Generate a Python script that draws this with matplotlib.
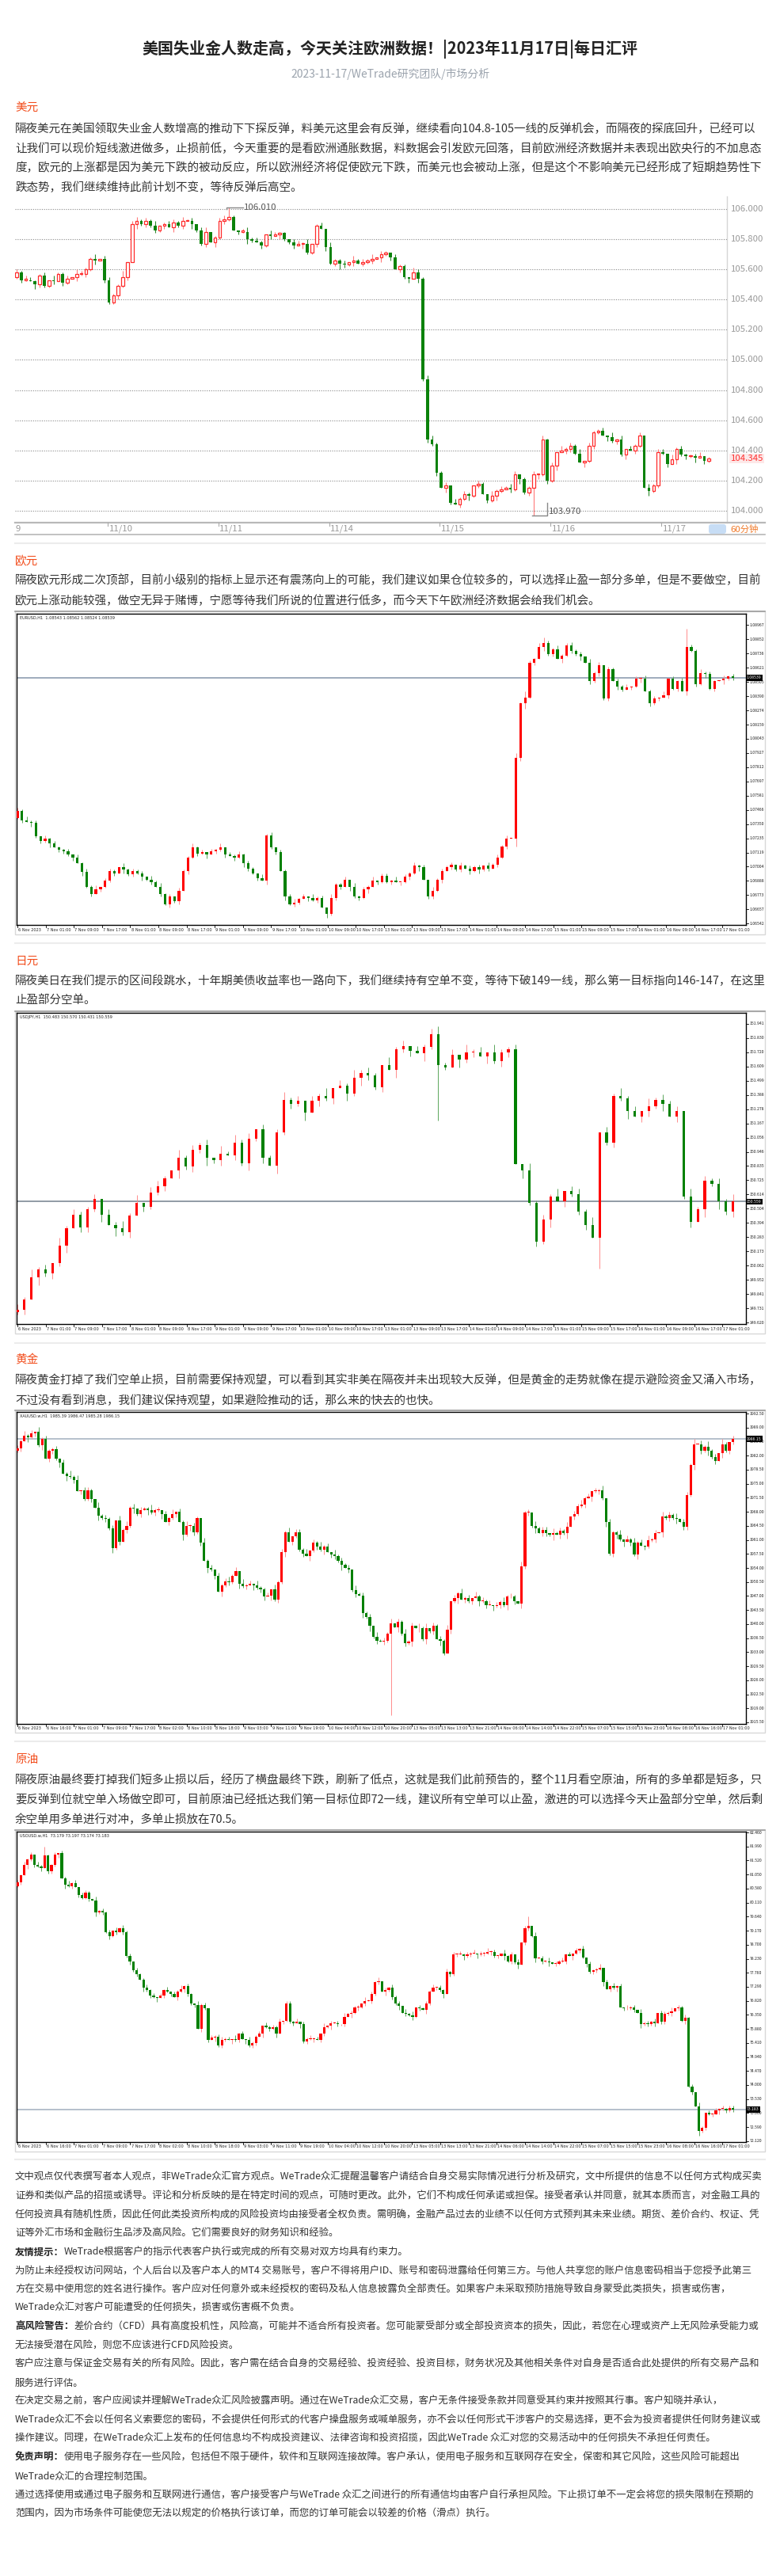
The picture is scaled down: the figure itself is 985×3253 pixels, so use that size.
import numpy as np
import matplotlib
matplotlib.use("Agg")
import matplotlib.pyplot as plt
from matplotlib.patches import Rectangle, FancyBboxPatch

# ============================ DATA ============================
title = "美国失业金人数走高，今天关注欧洲数据！|2023年11月17日|每日汇评"
subtitle = "2023-11-17/WeTrade研究团队/市场分析"

sec_usd = "美元"
para_usd = [
    "隔夜美元在美国领取失业金人数增高的推动下下探反弹，料美元这里会有反弹，继续看向104.8-105一线的反弹机会，而隔夜的探底回升，已经可以",
    "让我们可以现价短线激进做多，止损前低，今天重要的是看欧洲通胀数据，料数据会引发欧元回落，目前欧洲经济数据并未表现出欧央行的不加息态",
    "度，欧元的上涨都是因为美元下跌的被动反应，所以欧洲经济将促使欧元下跌，而美元也会被动上涨，但是这个不影响美元已经形成了短期趋势性下",
    "跌态势，我们继续维持此前计划不变，等待反弹后高空。",
]
sec_eur = "欧元"
para_eur = [
    "隔夜欧元形成二次顶部，目前小级别的指标上显示还有震荡向上的可能，我们建议如果仓位较多的，可以选择止盈一部分多单，但是不要做空，目前",
    "欧元上涨动能较强，做空无异于赌博，宁愿等待我们所说的位置进行低多，而今天下午欧洲经济数据会给我们机会。",
]
sec_jpy = "日元"
para_jpy = [
    "隔夜美日在我们提示的区间段跳水，十年期美债收益率也一路向下，我们继续持有空单不变，等待下破149一线，那么第一目标指向146-147，在这里",
    "止盈部分空单。",
]
sec_gold = "黄金"
para_gold = [
    "隔夜黄金打掉了我们空单止损，目前需要保持观望，可以看到其实非美在隔夜并未出现较大反弹，但是黄金的走势就像在提示避险资金又涌入市场，",
    "不过没有看到消息，我们建议保持观望，如果避险推动的话，那么来的快去的也快。",
]
sec_oil = "原油"
para_oil = [
    "隔夜原油最终要打掉我们短多止损以后，经历了横盘最终下跌，刷新了低点，这就是我们此前预告的，整个11月看空原油，所有的多单都是短多，只",
    "要反弹到位就空单入场做空即可，目前原油已经抵达我们第一目标位即72一线，建议所有空单可以止盈，激进的可以选择今天止盈部分空单，然后剩",
    "余空单用多单进行对冲，多单止损放在70.5。",
]
footer = [
    ("", "文中观点仅代表撰写者本人观点，非WeTrade众汇官方观点。WeTrade众汇提醒温馨客户请结合自身交易实际情况进行分析及研究，文中所提供的信息不以任何方式构成买卖"),
    ("", "证券和类似产品的招揽或诱导。评论和分析反映的是在特定时间的观点，可随时更改。此外，它们不构成任何承诺或担保。接受者承认并同意，就其本质而言，对金融工具的"),
    ("", "任何投资具有随机性质，因此任何此类投资所构成的风险投资均由接受者全权负责。需明确，金融产品过去的业绩不以任何方式预判其未来业绩。期货、差价合约、权证、凭"),
    ("", "证等外汇市场和金融衍生品涉及高风险。它们需要良好的财务知识和经验。"),
    ("友情提示：", "WeTrade根据客户的指示代表客户执行或完成的所有交易对双方均具有约束力。"),
    ("", "为防止未经授权访问网站，个人后台以及客户本人的MT4 交易账号，客户不得将用户ID、账号和密码泄露给任何第三方。与他人共享您的账户信息密码相当于您授予此第三"),
    ("", "方在交易中使用您的姓名进行操作。客户应对任何意外或未经授权的密码及私人信息披露负全部责任。如果客户未采取预防措施导致自身蒙受此类损失，损害或伤害，"),
    ("", "WeTrade众汇对客户可能遭受的任何损失，损害或伤害概不负责。"),
    ("高风险警告：", "差价合约（CFD）具有高度投机性，风险高，可能并不适合所有投资者。您可能蒙受部分或全部投资资本的损失，因此，若您在心理或资产上无风险承受能力或"),
    ("", "无法接受潜在风险，则您不应该进行CFD风险投资。"),
    ("", "客户应注意与保证金交易有关的所有风险。因此，客户需在结合自身的交易经验、投资经验、投资目标，财务状况及其他相关条件对自身是否适合此处提供的所有交易产品和"),
    ("", "服务进行评估。"),
    ("", "在决定交易之前，客户应阅读并理解WeTrade众汇风险披露声明。通过在WeTrade众汇交易，客户无条件接受条款并同意受其约束并按照其行事。客户知晓并承认，"),
    ("", "WeTrade众汇不会以任何名义索要您的密码，不会提供任何形式的代客户操盘服务或喊单服务，亦不会以任何形式干涉客户的交易选择，更不会为投资者提供任何财务建议或"),
    ("", "操作建议。同理，在WeTrade众汇上发布的任何信息均不构成投资建议、法律咨询和投资招揽，因此WeTrade 众汇对您的交易活动中的任何损失不承担任何责任。"),
    ("免责声明：", "使用电子服务存在一些风险，包括但不限于硬件，软件和互联网连接故障。客户承认，使用电子服务和互联网存在安全，保密和其它风险，这些风险可能超出"),
    ("", "WeTrade众汇的合理控制范围。"),
    ("", "通过选择使用或通过电子服务和互联网进行通信，客户接受客户与WeTrade 众汇之间进行的所有通信均由客户自行承担风险。下止损订单不一定会将您的损失限制在预期的"),
    ("", "范围内，因为市场条件可能使您无法以规定的价格执行该订单，而您的订单可能会以较差的价格（滑点）执行。"),
]

# ---- USD index, hourly candles (web chart) ----
usd_open0 = 105.55
usd_close = [
    105.58, 105.53, 105.53, 105.52, 105.50, 105.56, 105.49, 105.53, 105.52, 105.57,
    105.51, 105.54, 105.55, 105.57, 105.57, 105.60, 105.67, 105.66, 105.67, 105.53,
    105.38, 105.43, 105.49, 105.55, 105.65, 105.90, 105.92, 105.90, 105.92, 105.89,
    105.86, 105.89, 105.90, 105.88, 105.91, 105.89, 105.92, 105.92, 105.90, 105.86,
    105.77, 105.85, 105.78, 105.81, 105.92, 105.93, 105.95, 105.86, 105.85, 105.85,
    105.80, 105.79, 105.78, 105.76, 105.83, 105.82, 105.83, 105.84, 105.80, 105.78,
    105.76, 105.77, 105.77, 105.71, 105.77, 105.89, 105.87, 105.75, 105.64, 105.66,
    105.64, 105.63, 105.65, 105.66, 105.64, 105.65, 105.66, 105.67, 105.68, 105.70,
    105.71, 105.68, 105.60, 105.62, 105.55, 105.54, 105.58, 105.54, 104.87, 104.47,
    104.44, 104.25, 104.15, 104.17, 104.05, 104.04, 104.08, 104.11, 104.10, 104.17,
    104.18, 104.11, 104.07, 104.10, 104.13, 104.14, 104.15, 104.14, 104.24, 104.21,
    104.12, 104.15, 104.24, 104.24, 104.47, 104.20, 104.30, 104.39, 104.40, 104.41,
    104.43, 104.38, 104.32, 104.33, 104.43, 104.52, 104.53, 104.50, 104.49, 104.46,
    104.47, 104.37, 104.41, 104.40, 104.43, 104.50, 104.15, 104.13, 104.17, 104.39,
    104.38, 104.31, 104.34, 104.41, 104.37, 104.36, 104.36, 104.35, 104.36, 104.33,
    104.345,
]
usd_up_wick = ("2132112031 1203211302 2114023121 3012213120 2301231102 3121032110 2213012031 "
               "1203121302 1021103213 3112031210 2103121320 1120312031 2130211203 1302120312 2031211230 1")
usd_dn_wick = ("1210321120 2103121302 1131203121 2120312031 1203121021 3102120311 2031120312 "
               "4213021203 1202130312 1203102131 2021310213 1203121302 2103121031 2130210312 1203121302 1")
usd_wick_unit = 0.01
usd_high_marks = {46: 106.010}
usd_low_marks = {112: 103.970}
usd_day_labels = ["11/10", "11/11", "11/14", "11/15", "11/16", "11/17"]
usd_first_day_index = 19.7
usd_grid = [104.0, 104.2, 104.4, 104.6, 104.8, 105.0, 105.2, 105.4, 105.6, 105.8, 106.0]

# ---- EURUSD H1 (pips above 1.0600) ----
eur_open0 = 140
eur_close_pips = [
    146, 138, 137, 136, 125, 121, 123, 119, 116, 114,
    113, 110, 108, 103, 96, 84, 78, 82, 84, 89,
    97, 95, 100, 98, 94, 97, 95, 92, 90, 88,
    84, 78, 70, 76, 72, 81, 97, 108, 116, 111,
    112, 110, 113, 114, 116, 110, 109, 108, 110, 103,
    99, 95, 91, 89, 126, 116, 112, 97, 76, 70,
    71, 74, 76, 75, 73, 75, 67, 62, 75, 86,
    84, 90, 84, 76, 75, 82, 84, 89, 88, 93,
    88, 89, 88, 88, 92, 95, 101, 100, 90, 76,
    81, 90, 97, 100, 102, 98, 101, 99, 97, 100,
    98, 101, 99, 102, 108, 117, 123, 123, 189, 233,
    238, 266, 269, 279, 282, 273, 277, 269, 272, 280,
    276, 273, 271, 266, 251, 258, 264, 237, 261, 251,
    247, 244, 246, 247, 253, 253, 243, 233, 237, 238,
    240, 253, 245, 251, 243, 279, 276, 249, 258, 257,
    245, 251, 252, 253, 255, 253.9,
]
eur_up_wick = ("2131203121 1202131302 2103121203 1312021131 2021302131 2103120212 3120312031 1203121302 "
               "2130213120 3121203121 2031213041 5213021312 3120313021 2130213120 3121302131 2103120")
eur_dn_wick = ("1203121302 2130312021 1203121312 0213120312 1302120313 2120312031 2103120312 2031213021 "
               "1203121302 2130212031 3120212063 4120312031 2130213120 3102130212 0312031213 1203121")
eur_high_pips = {145: 294, 114: 287}

# ---- USDJPY H1 ----
jpy_open0 = 149.70
jpy_close = [
    149.72, 149.80, 149.97, 150.03, 150.00, 150.08, 150.22, 150.35, 150.46, 150.36,
    150.50, 150.58, 150.46, 150.38, 150.35, 150.32, 150.45, 150.55, 150.52, 150.63,
    150.68, 150.74, 150.80, 150.90, 150.83, 150.96, 151.00, 150.90, 150.88, 150.93,
    150.92, 151.02, 150.86, 151.05, 151.12, 150.90, 150.84, 151.10, 151.35, 151.32,
    151.34, 151.25, 151.34, 151.38, 151.36, 151.44, 151.46, 151.40, 151.52, 151.56,
    151.54, 151.45, 151.62, 151.58, 151.74, 151.77, 151.73, 151.71, 151.76, 151.86,
    151.62, 151.60, 151.70, 151.66, 151.72, 151.72, 151.69, 151.72, 151.65, 151.72,
    151.74, 150.85, 150.80, 150.55, 150.25, 150.42, 150.60, 150.56, 150.64, 150.62,
    150.48, 150.38, 150.28, 151.10, 151.02, 151.38, 151.36, 151.26, 151.22, 151.26,
    151.30, 151.35, 151.32, 151.22, 151.26, 150.60, 150.40, 150.50, 150.72, 150.70,
    150.56, 150.48, 150.559,
]
jpy_up_wick = ("2131203121 1202131302 2103121203 1312021131 2021302131 2103120212 3120312031 "
               "1203121302 2130213120 3121203121 213")
jpy_dn_wick = ("1203121302 2130312021 1203121312 0213120312 1302120313 2120312031 2103120312 "
               "2031213021 1203121302 2130212031 312")
jpy_low_marks = {60: 151.19, 83: 150.04}

# ---- XAUUSD H1 ----
gold_open0 = 1983.2
gold_close = [
    1983.9, 1985.6, 1986.9, 1986.5, 1987.6, 1987.9, 1984.6, 1986.2, 1981.3, 1983.3,
    1983.6, 1981.3, 1980.3, 1977.4, 1977.0, 1976.7, 1976.0, 1973.1, 1973.4, 1971.1,
    1973.4, 1971.1, 1969.1, 1967.0, 1966.5, 1966.2, 1963.9, 1958.9, 1965.8, 1960.6,
    1963.5, 1964.5, 1969.1, 1968.8, 1967.5, 1968.5, 1968.8, 1968.5, 1967.8, 1968.5,
    1968.5, 1967.5, 1965.5, 1966.5, 1967.5, 1968.1, 1965.5, 1962.2, 1964.5, 1964.5,
    1962.9, 1966.5, 1960.3, 1955.7, 1954.0, 1953.7, 1952.0, 1948.1, 1949.7, 1950.7,
    1950.4, 1952.0, 1953.3, 1950.0, 1949.4, 1949.7, 1950.0, 1949.7, 1949.1, 1948.7,
    1946.8, 1947.1, 1948.7, 1946.1, 1950.4, 1958.0, 1962.9, 1960.6, 1961.9, 1962.9,
    1958.6, 1957.6, 1957.0, 1958.3, 1960.3, 1959.3, 1958.6, 1959.3, 1958.0, 1957.3,
    1957.0, 1955.7, 1954.7, 1954.0, 1953.7, 1948.4, 1947.4, 1947.1, 1942.8, 1941.8,
    1939.5, 1936.9, 1935.9, 1935.6, 1935.9, 1937.6, 1940.2, 1939.2, 1940.5, 1937.6,
    1935.3, 1935.6, 1939.5, 1938.9, 1938.9, 1936.2, 1938.9, 1938.2, 1939.5, 1936.2,
    1935.9, 1932.6, 1938.5, 1945.8, 1946.4, 1947.7, 1946.1, 1946.4, 1945.8, 1946.4,
    1946.8, 1945.8, 1945.8, 1944.8, 1944.8, 1944.5, 1944.8, 1945.5, 1944.8, 1946.8,
    1946.8, 1945.8, 1945.1, 1954.3, 1967.8, 1967.8, 1964.5, 1963.9, 1962.6, 1963.5,
    1962.6, 1962.2, 1962.6, 1962.2, 1963.2, 1962.6, 1964.2, 1966.8, 1967.5, 1969.5,
    1969.8, 1971.4, 1971.8, 1973.1, 1973.1, 1973.4, 1971.4, 1965.5, 1957.6, 1962.9,
    1962.2, 1961.2, 1960.6, 1961.2, 1960.3, 1957.3, 1960.3, 1959.6, 1959.3, 1960.9,
    1961.2, 1962.6, 1962.9, 1966.8, 1966.5, 1967.2, 1966.5, 1966.2, 1965.5, 1964.2,
    1972.1, 1979.7, 1984.9, 1984.9, 1983.3, 1984.3, 1983.3, 1981.6, 1980.7, 1982.6,
    1984.9, 1983.3, 1985.3, 1986.15,
]
gold_up_wick = ("2131203121 1202131302 2103121203 1312021131 2021302131 2103120212 3120312031 "
                "1203121302 2130213120 3121203121 2031213021 3120313021 2130213120 3121302131 "
                "2103120312 2031213021 3120213021 1302131203 1203121302 2130213120 3102")
gold_dn_wick = ("1203121302 2130312021 1203121312 0213120312 1302120313 2120312031 2103120312 "
                "2031213021 1203121302 2130212031 3120212031 2130213120 3102130212 0312031213 "
                "1203121302 2130213021 1203121312 2130213021 1203121302 2130213120 3121")
gold_low_marks = {106: 1917.2}

# ---- USOUSD H1 ----
oil_open0 = 80.67
oil_close = [
    80.80, 81.02, 81.37, 81.55, 81.73, 81.37, 81.33, 81.28, 81.68, 81.15,
    81.37, 81.73, 81.77, 80.93, 80.71, 80.67, 80.75, 80.62, 80.36, 80.27,
    80.45, 80.22, 80.18, 79.78, 79.83, 79.78, 79.12, 78.99, 79.16, 79.12,
    79.25, 79.12, 78.32, 78.15, 77.84, 77.71, 77.53, 77.26, 77.18, 77.00,
    76.95, 76.91, 77.00, 77.17, 77.13, 77.04, 76.95, 77.13, 77.22, 77.31,
    77.04, 76.73, 76.69, 75.89, 76.69, 76.56, 75.50, 75.59, 75.63, 75.32,
    75.50, 75.54, 75.50, 75.54, 75.50, 75.72, 75.54, 75.50, 75.32, 75.41,
    75.63, 75.72, 75.98, 75.94, 75.89, 75.94, 75.72, 76.12, 76.16, 76.73,
    76.12, 76.07, 76.12, 76.03, 75.45, 75.54, 75.54, 75.54, 75.50, 75.72,
    75.94, 75.98, 76.07, 76.07, 76.03, 76.03, 76.29, 76.38, 76.42, 76.60,
    76.60, 76.73, 76.82, 76.82, 77.04, 77.44, 77.48, 77.13, 77.18, 77.26,
    76.95, 76.73, 76.65, 76.42, 76.38, 76.34, 76.29, 76.60, 76.56, 76.51,
    76.73, 77.13, 77.26, 77.26, 77.18, 77.04, 77.79, 77.71, 78.37, 78.37,
    78.37, 78.32, 78.37, 78.41, 78.41, 78.37, 78.41, 78.41, 78.46, 78.46,
    78.32, 78.32, 78.41, 78.32, 78.15, 78.37, 78.10, 78.02, 78.77, 79.25,
    79.34, 78.99, 78.24, 78.24, 78.15, 78.15, 78.10, 78.06, 78.06, 78.15,
    78.15, 78.37, 78.32, 78.41, 78.50, 78.55, 78.28, 78.06, 77.79, 77.84,
    77.88, 77.93, 77.44, 77.22, 77.31, 77.26, 77.31, 76.60, 76.56, 76.56,
    76.60, 76.51, 76.42, 76.03, 76.07, 76.03, 76.12, 76.07, 76.42, 76.12,
    76.38, 76.42, 76.47, 76.56, 76.60, 76.16, 76.25, 73.95, 73.77, 73.29,
    72.45, 72.58, 73.07, 73.02, 73.02, 73.15, 73.20, 73.20, 73.15, 73.24,
    73.183,
]
oil_up_wick = ("2131203121 1202131302 2103121203 1312021131 2021302131 2103120212 3120312031 "
               "1203121302 2130213120 3121203121 2031213021 3120313021 2130213120 3121302131 "
               "2103120312 6031213021 3120213021 1302131203 1203121302 2130213120 3102120312 2")
oil_dn_wick = ("1203121302 2130312021 1203121312 0213120312 1302120313 2120312031 2103120312 "
               "2031213021 1203121302 2130212031 3120212031 2130213120 3102130212 0312031213 "
               "1203121302 2130213021 1203121312 2130213021 1203121302 2130213120 3121203121 2")
oil_high_marks = {8: 81.99, 150: 79.65}
oil_low_marks = {200: 72.31}

mt4_labels_a = ["6 Nov 2023", "7 Nov 01:00", "7 Nov 09:00", "7 Nov 17:00", "8 Nov 01:00", "8 Nov 09:00",
                "8 Nov 17:00", "9 Nov 01:00", "9 Nov 09:00", "9 Nov 17:00", "10 Nov 01:00", "10 Nov 09:00",
                "10 Nov 17:00", "13 Nov 01:00", "13 Nov 09:00", "13 Nov 17:00", "14 Nov 01:00", "14 Nov 09:00",
                "14 Nov 17:00", "15 Nov 01:00", "15 Nov 09:00", "15 Nov 17:00", "16 Nov 01:00", "16 Nov 09:00",
                "16 Nov 17:00", "17 Nov 01:00"]
mt4_labels_b = ["6 Nov 2023", "6 Nov 16:00", "7 Nov 01:00", "7 Nov 09:00", "7 Nov 17:00", "8 Nov 02:00",
                "8 Nov 10:00", "8 Nov 18:00", "9 Nov 03:00", "9 Nov 11:00", "9 Nov 19:00", "10 Nov 04:00",
                "10 Nov 12:00", "10 Nov 20:00", "13 Nov 05:00", "13 Nov 13:00", "13 Nov 21:00", "14 Nov 06:00",
                "14 Nov 14:00", "14 Nov 22:00", "15 Nov 07:00", "15 Nov 15:00", "15 Nov 23:00", "16 Nov 08:00",
                "16 Nov 16:00", "17 Nov 01:00"]

# ============================ LAYOUT ============================
W, H, DPI = 985, 3253, 100
plt.rcParams['font.family'] = ['Noto Sans CJK SC', 'DejaVu Sans']
fig = plt.figure(figsize=(W / DPI, H / DPI), dpi=DPI)
fig.patch.set_facecolor('white')
bg = fig.add_axes([0, 0, 1, 1])
bg.set_xlim(0, W)
bg.set_ylim(H, 0)
bg.axis('off')
renderer = fig.canvas.get_renderer()

TXT = '#333333'
SEC = '#f24c1b'
L, R = 19, 966


def fit_size(s, target_px, base=10.0, weight='normal'):
    t = bg.text(0, 0, s, fontsize=base, fontweight=weight)
    w = t.get_window_extent(renderer=renderer).width
    t.remove()
    return base * target_px / w


PARA_FS = fit_size(para_usd[0], 938)
FOOT_FS = fit_size(footer[0][1], 942)


def px_axes(x0, y0, x1, y1):
    return fig.add_axes([x0 / W, 1 - y1 / H, (x1 - x0) / W, (y1 - y0) / H])


def sep(y):
    bg.plot([L, R], [y, y], color='#ececec', lw=1.5)


def para(lines, ys):
    for s, y in zip(lines, ys):
        bg.text(L, y, s, fontsize=PARA_FS, color=TXT, va='center', ha='left')


def wicks_from(s, n):
    v = [int(ch) for ch in s.replace(' ', '')]
    return np.array([v[i] if i < len(v) else 1 for i in range(n)], dtype=float)


def ohlc(open0, closes, upw, dnw, unit, hi_marks=None, lo_marks=None):
    c = np.asarray(closes, dtype=float)
    o = np.concatenate([[open0], c[:-1]])
    n = len(c)
    h = np.maximum(o, c) + wicks_from(upw, n) * unit
    lo = np.minimum(o, c) - wicks_from(dnw, n) * unit
    for k, v in (hi_marks or {}).items():
        h[k] = v
    for k, v in (lo_marks or {}).items():
        lo[k] = v
    return o, c, h, lo


def draw_candles(ax, xs, o, c, h, lo, width, ucol, dcol, uw, dw, min_h, hollow_up=False, wlw=0.8):
    up = c >= o
    for sel, col, wc, is_up in ((up, ucol, uw, True), (~up, dcol, dw, False)):
        ax.vlines(xs[sel], lo[sel], h[sel], color=wc, lw=wlw, zorder=2)
        bottoms = np.minimum(o, c)[sel]
        heights = np.maximum(np.abs(c - o)[sel], min_h)
        if hollow_up and is_up:
            ax.bar(xs[sel], heights, width, bottoms, facecolor='white', edgecolor=col, lw=0.9, zorder=3)
        else:
            ax.bar(xs[sel], heights, width, bottoms, color=col, lw=0, zorder=3)


# ---------------- header ----------------
bg.text(W / 2, 62, title, fontsize=14.4, fontweight='bold', color='#222222', ha='center', va='center')
bg.text(W / 2, 93, subtitle, fontsize=10.0, color='#9ba3ad', ha='center', va='center')

# ---------------- USD section ----------------
bg.text(L, 136, sec_usd, fontsize=10.5, color=SEC, va='center')
para(para_usd, [163, 188, 212, 237])

ax = px_axes(19, 248, 918, 660)
n = len(usd_close)
xs = np.arange(n, dtype=float)
o, c, h, lo = ohlc(usd_open0, usd_close, usd_up_wick, usd_dn_wick, usd_wick_unit, usd_high_marks, usd_low_marks)
ax.set_xlim(-0.34, 153.9)
ax.set_ylim(103.921, 106.084)
ax.axis('off')
for g in usd_grid:
    ax.axhline(g, color='#8a8a8a', lw=0.8, ls=(0, (1, 1.5)), zorder=1)
    ax.text(1.005, g, f"{g:.3f}", transform=ax.get_yaxis_transform(), fontsize=8.2,
            color='#9a9a9a', va='center', ha='left')
draw_candles(ax, xs, o, c, h, lo, 0.62, '#ff2a2a', '#0b820b', '#ff7a7a', '#2e8b2e',
             min_h=0.006, hollow_up=True, wlw=0.8)
hi_i = list(usd_high_marks)[0]
hv = usd_high_marks[hi_i]
ax.plot([hi_i - 0.5, hi_i - 0.5, hi_i + 3.0], [hv - 0.012, hv, hv], color='#888888', lw=1.0)
ax.text(hi_i + 3.2, hv, f"{hv:.3f}", fontsize=8.2, color='#555555', va='center', ha='left')
lo_i = list(usd_low_marks)[0]
lv = usd_low_marks[lo_i]
ax.plot([lo_i - 0.3, lo_i + 3.0, lo_i + 3.0], [lv, lv, lv + 0.08], color='#888888', lw=1.0)
ax.text(lo_i + 3.3, lv + 0.025, f"{lv:.3f}", fontsize=8.2, color='#555555', va='center', ha='left')
cur = usd_close[-1]
ax.text(1.005, cur, f"{cur:.3f}", transform=ax.get_yaxis_transform(), fontsize=8.2, color='#ff3030',
        va='center', ha='left', bbox=dict(boxstyle='square,pad=0.1', fc='#fde8e8', ec='none'))
tr = ax.get_xaxis_transform()
for k, lab in enumerate(usd_day_labels):
    xi = usd_first_day_index + 24 * k
    ax.plot([xi, xi], [0, -4 / 412], transform=tr, color='#aaaaaa', lw=0.8, clip_on=False)
    ax.text(xi + 0.3, -8 / 412, lab, transform=tr, fontsize=8.2, color='#9a9a9a', va='center', ha='left')
bg.text(19, 668, "9", fontsize=8.2, color='#9a9a9a', va='center', ha='left')
bg.plot([918, 918], [248, 660], color='#d5d5d5', lw=1)
bg.plot([L, R], [660, 660], color='#b8b8b8', lw=1.6)
bg.plot([L, R], [675, 675], color='#b8b8b8', lw=1.2)
bg.add_patch(FancyBboxPatch((895, 662), 22, 12, boxstyle='round,pad=0,rounding_size=3',
                            fc='#c7ddf5', ec='none'))
bg.text(922, 668, "60分钟", fontsize=8.2, color='#f07a2a', va='center', ha='left')

sep(686)


# ---------------- MT4 charts ----------------
def mt4_chart(gray_top, top, axis_y, bottom, o, c, h, lo, ylim, ticks, fmt, cur, line_col,
              head, xlabels):
    bg.add_patch(Rectangle((L, gray_top), R - L, bottom - gray_top, fill=False, ec='#d8d8d8', lw=1))
    bg.plot([L, R], [gray_top, gray_top], color='#9c9c9c', lw=1.2)
    ax = px_axes(21, top, 942, axis_y)
    hpx = axis_y - top
    n = len(c)
    xs = np.linspace(0, 203, n)
    ax.set_xlim(-0.22, 206.7)
    ax.set_ylim(*ylim)
    ax.set_xticks([])
    ax.set_yticks([])
    for sp in ax.spines.values():
        sp.set_color('black')
        sp.set_linewidth(1.0)
    yr = ylim[1] - ylim[0]
    ax.axhline(cur, color=line_col, lw=1.2, zorder=1)
    draw_candles(ax, xs, o, c, h, lo, 0.72, '#ff0000', '#008000', '#ff8c8c', '#5aa65a',
                 min_h=yr / hpx * 0.9, wlw=0.7)
    ytr = ax.get_yaxis_transform()
    for v in ticks:
        ax.plot([1.0, 1.0035], [v, v], transform=ytr, color='black', lw=0.6, clip_on=False)
        ax.text(1.005, v, fmt.format(v), transform=ytr, fontsize=3.7, color='#222222',
                va='center', ha='left')
    ax.text(1.001, cur, fmt.format(cur), transform=ytr, fontsize=3.7, color='white', va='center',
            ha='left', bbox=dict(boxstyle='square,pad=0.25', fc='black', ec='none'), zorder=5)
    ax.text(0.004, 1 - 5 / hpx, head, transform=ax.transAxes, fontsize=3.6, color='#222222',
            va='center', ha='left', family='DejaVu Sans')
    xtr = ax.get_xaxis_transform()
    for k, lab in enumerate(xlabels):
        xh = 8 * k
        ax.plot([xh, xh], [0, -3 / hpx], transform=xtr, color='black', lw=0.6, clip_on=False)
        ax.text(xh + 0.25, -6 / hpx, lab, transform=xtr, fontsize=3.6, color='#222222',
                va='center', ha='left', family='DejaVu Sans')
    return ax


# EUR
bg.text(L, 709, sec_eur, fontsize=10.5, color=SEC, va='center')
para(para_eur, [733, 759])
eo, ec, eh, el = ohlc(eur_open0, eur_close_pips, eur_up_wick, eur_dn_wick, 1.0, eur_high_pips)
base = 1.06
mt4_chart(772, 775, 1168, 1180, base + eo / 1e4, base + ec / 1e4, base + eh / 1e4, base + el / 1e4,
          (1.0653, 1.0906), 1.08505 + 0.001155 * np.arange(-17, 5), "{:.5f}",
          base + eur_close_pips[-1] / 1e4, '#8d9db0',
          "EURUSD,H1  1.08543 1.08562 1.08524 1.08539", mt4_labels_a)
sep(1191)

# JPY
bg.text(L, 1214, sec_jpy, fontsize=10.5, color=SEC, va='center')
para(para_jpy, [1239, 1264])
jo, jc, jh, jl = ohlc(jpy_open0, jpy_close, jpy_up_wick, jpy_dn_wick, 0.02, None, jpy_low_marks)
mt4_chart(1277, 1279, 1672, 1684, jo, jc, jh, jl, (149.608, 152.026),
          149.62 + 0.1105 * np.arange(22), "{:.3f}", jpy_close[-1], '#7e8a96',
          "USDJPY,H1  150.483 150.570 150.431 150.559", mt4_labels_a)
sep(1696)

# GOLD
bg.text(L, 1717, sec_gold, fontsize=10.5, color=SEC, va='center')
para(para_gold, [1743, 1769])
go, gc, gh, gl = ohlc(gold_open0, gold_close, gold_up_wick, gold_dn_wick, 0.4, None, gold_low_marks)
mt4_chart(1781, 1783, 2177, 2188, go, gc, gh, gl, (1915.1, 1992.9),
          1915.5 + 3.5 * np.arange(23), "{:.2f}", gold_close[-1], '#a9b5c4',
          "XAUUSD.w,H1  1985.39 1986.47 1985.28 1986.15", mt4_labels_b)
sep(2199)

# OIL
bg.text(L, 2222, sec_oil, fontsize=10.5, color=SEC, va='center')
para(para_oil, [2248, 2273, 2298])
oo, oc, oh, ol = ohlc(oil_open0, oil_close, oil_up_wick, oil_dn_wick, 0.04, oil_high_marks, oil_low_marks)
mt4_chart(2311, 2313, 2705, 2717, oo, oc, oh, ol, (72.09, 82.487),
          82.46 - 0.47 * np.arange(23), "{:.3f}", oil_close[-1], '#a9b5c4',
          "USOUSD.w,H1  73.179 73.197 73.174 73.183", mt4_labels_b)
sep(2727)

# ---------------- footer ----------------
fy = [2749, 2773, 2797, 2820, 2844, 2868, 2891, 2914, 2938, 2962, 2985, 3009, 3032, 3056, 3079,
      3103, 3127, 3151, 3174]
for (b, s), y in zip(footer, fy):
    x = L
    if b:
        t = bg.text(x, y, b, fontsize=FOOT_FS, color='#222222', fontweight='bold', va='center', ha='left')
        x += t.get_window_extent(renderer=renderer).width
    bg.text(x, y, s, fontsize=FOOT_FS, color=TXT, va='center', ha='left')

fig.savefig("out.png", dpi=DPI, facecolor='white')
